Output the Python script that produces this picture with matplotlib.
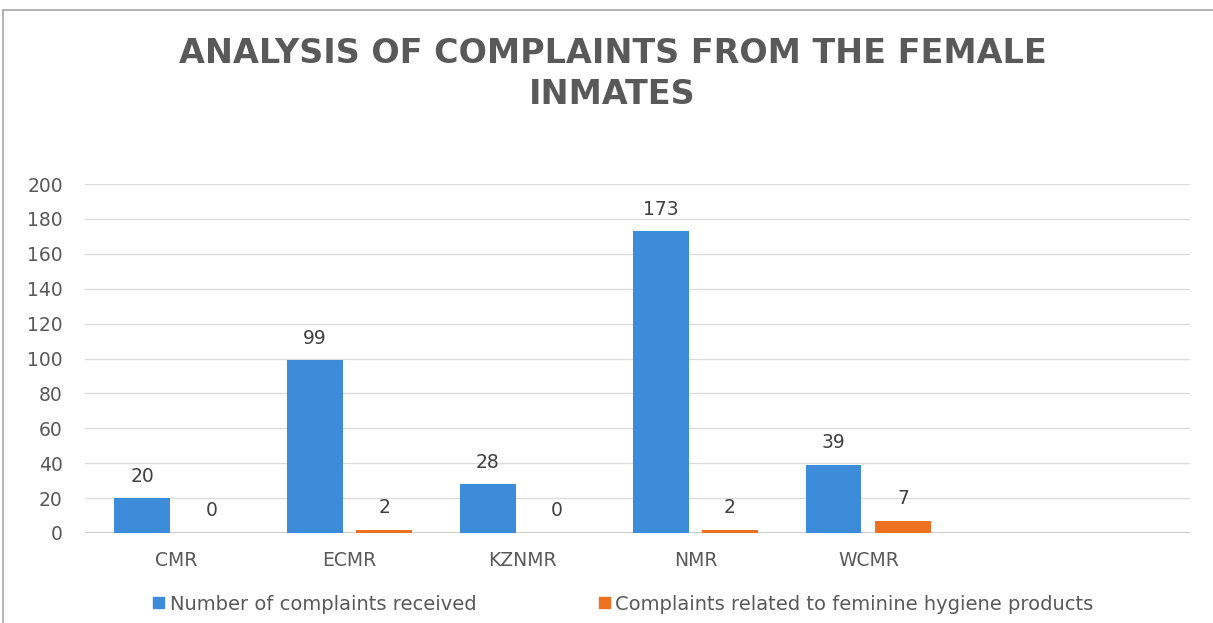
import matplotlib
matplotlib.use("Agg")
import matplotlib.pyplot as plt
import numpy as np
from matplotlib.patches import Rectangle, Patch

categories = ["CMR", "ECMR", "KZNMR", "NMR", "WCMR"]
complaints_received = [20, 99, 28, 173, 39]
hygiene_complaints = [0, 2, 0, 2, 7]
y_ticks = [0, 20, 40, 60, 80, 100, 120, 140, 160, 180, 200]
series_names = ["Number of complaints received",
                "Complaints related to feminine hygiene products"]
title = "ANALYSIS OF COMPLAINTS FROM THE FEMALE\nINMATES"

BLUE = "#3D8CD9"
ORANGE = "#EE7121"
TXT = "#595959"
FONT = ["DejaVu Sans"]

fig = plt.figure(figsize=(12.13, 6.23), dpi=100)
fig.patch.set_facecolor("white")

# outer frame (top and left edge visible)
fig.add_artist(Rectangle((3 / 1213, -0.05), 1.2, (623 - 10) / 623 + 0.05,
                         transform=fig.transFigure, fill=False,
                         edgecolor="#A6A6A6", linewidth=1.2))

ax = fig.add_axes([85 / 1213, 1 - 533 / 623, (1190 - 85) / 1213, (533 - 184) / 623])
x = np.arange(len(categories))
w = 0.32
off = 0.2
b1 = ax.bar(x - off, complaints_received, w, color=BLUE, zorder=3)
b2 = ax.bar(x + off, hygiene_complaints, w, color=ORANGE, zorder=3)

for bars, vals in ((b1, complaints_received), (b2, hygiene_complaints)):
    for r, v in zip(bars, vals):
        ax.annotate(str(v), (r.get_x() + r.get_width() / 2, v),
                    xytext=(0, 9), textcoords="offset points",
                    ha="center", va="bottom", fontsize=13.5, color="#404040",
                    family=FONT)

ax.set_xlim(-0.53, 5.86)
ax.set_ylim(0, 200)
ax.set_yticks(y_ticks)
ax.set_yticklabels([str(t) for t in y_ticks], family=FONT, fontsize=13.5, color=TXT)
ax.set_xticks(x)
ax.set_xticklabels(categories, family=FONT, fontsize=13.5, color=TXT)
ax.tick_params(axis="y", length=0, pad=16)
ax.tick_params(axis="x", length=0, pad=13)
for s in ax.spines.values():
    s.set_visible(False)
ax.grid(axis="y", color="#DCDCDC", linewidth=1, zorder=0)
ax.axhline(0, color="#C4C4C4", linewidth=1.2, zorder=2)

fig.text(0.505, 1 - 74 / 623, title, ha="center", va="center",
         fontsize=24, fontweight="bold", color=TXT, linespacing=1.3,
         family=["DejaVu Sans"])

handles = [Patch(color=BLUE), Patch(color=ORANGE)]
fig.legend(handles, series_names, loc="center", bbox_to_anchor=(0.514, 1 - 604 / 623),
           ncol=2, frameon=False, handlelength=0.55, handleheight=0.55,
           handletextpad=0.3, columnspacing=6.3,
           prop={"family": FONT, "size": 14}, labelcolor=TXT)

fig.savefig("out.png", dpi=100, facecolor="white")
